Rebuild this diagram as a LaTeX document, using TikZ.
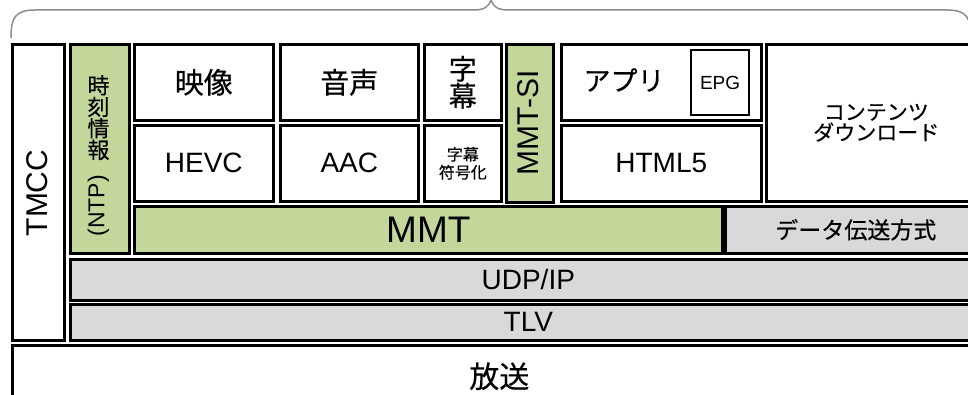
\documentclass[tikz,border=0pt]{standalone}
\usepackage{fontspec}
\setmainfont{Liberation Sans}
\newfontfamily\jp[FakeBold=0.4]{Noto Sans CJK JP}
\definecolor{grn}{HTML}{C4D79B}
\definecolor{gry}{HTML}{D9D9D9}
\definecolor{bracegray}{HTML}{8C8C8C}
\newcommand\mkbox[7]{\node[box,#6,minimum width={#4-#2},minimum height={#5-#3}] (#1) at (#2,#3) {#7};}
\begin{document}
\begin{tikzpicture}[x=1pt,y=-1pt,
  box/.style={draw=black,line width=2.6pt,inner sep=0pt,align=center,anchor=north west,fill=white},
  greenbox/.style={fill=grn},
  graybox/.style={fill=gry},
  lbl/.style={inner sep=0pt,align=center},
  latL/.style={font=\fontsize{28}{30}\selectfont},
  jpL/.style={font=\jp\fontsize{29}{30}\selectfont},
]
\useasboundingbox (0,0) rectangle (968,395);
\clip (0,0) rectangle (968,395);
% brace
\draw[bracegray,line width=1.5pt,line join=round]
  (11,38) .. controls (11,18) and (15,10) .. (35,10) -- (474,10)
  .. controls (485,10) and (489,6) .. (491,0)
  .. controls (493,6) and (497,10) .. (508,10) -- (947,10)
  .. controls (967,10) and (971,18) .. (971,38);
% boxes
\mkbox{tmcc}{11}{43}{63}{339}{}{}
\node[lbl,rotate=90,font=\fontsize{30}{32}\selectfont] (tmcclbl) at (37,193) {TMCC};
\mkbox{time}{69}{43}{128}{252}{greenbox}{}
\node[lbl,anchor=north,font=\jp\fontsize{22}{21.5}\selectfont] (timelbl) at (98.5,75) {時\\刻\\情\\報};
\node[lbl,rotate=90,font=\fontsize{23}{25}\selectfont] (ntplbl) at (98.5,206) {(NTP)};
\mkbox{vid}{133}{43}{272}{119}{jpL}{映像}
\mkbox{aud}{279}{43}{417}{119}{jpL}{音声}
\mkbox{sub}{423}{43}{500}{119}{font=\jp\fontsize{28}{27}\selectfont}{字\\幕}
\mkbox{mmtsi}{505}{43}{552}{201}{greenbox}{}
\node[lbl,rotate=90,font=\fontsize{30}{32}\selectfont] (mmtsilbl) at (528.5,123) {MMT-SI};
\mkbox{app}{560}{43}{760}{119}{}{}
\node[lbl,font=\jp\fontsize{27}{30}\selectfont] (applbl) at (624,80) {アプリ};
\mkbox{epg}{690}{49}{748}{114}{line width=2.2pt,font=\fontsize{19}{20}\selectfont}{EPG}
\mkbox{cont}{765}{43}{985}{200}{font=\jp\fontsize{21}{20.5}\selectfont}{コンテンツ\\ダウンロード}
\mkbox{hevc}{133}{124}{272}{200}{latL}{HEVC}
\mkbox{aac}{279}{124}{417}{200}{latL}{AAC}
\mkbox{subc}{423}{124}{500}{200}{font=\jp\fontsize{16}{18}\selectfont}{字幕\\符号化}
\mkbox{html}{560}{124}{760}{200}{latL}{HTML5}
\mkbox{mmt}{133}{205}{721}{252}{greenbox,font=\fontsize{37}{38}\selectfont}{MMT}
\mkbox{data}{724}{205}{985}{252}{graybox,font=\jp\fontsize{23}{25}\selectfont}{データ伝送方式}
\mkbox{udp}{69}{258}{985}{299}{graybox,font=\fontsize{28}{30}\selectfont}{UDP/IP}
\mkbox{tlv}{69}{303}{985}{339}{graybox,font=\fontsize{28}{30}\selectfont}{TLV}
\mkbox{bc}{11}{344}{985}{406}{font=\jp\fontsize{30}{32}\selectfont}{放送}
\end{tikzpicture}
\end{document}
